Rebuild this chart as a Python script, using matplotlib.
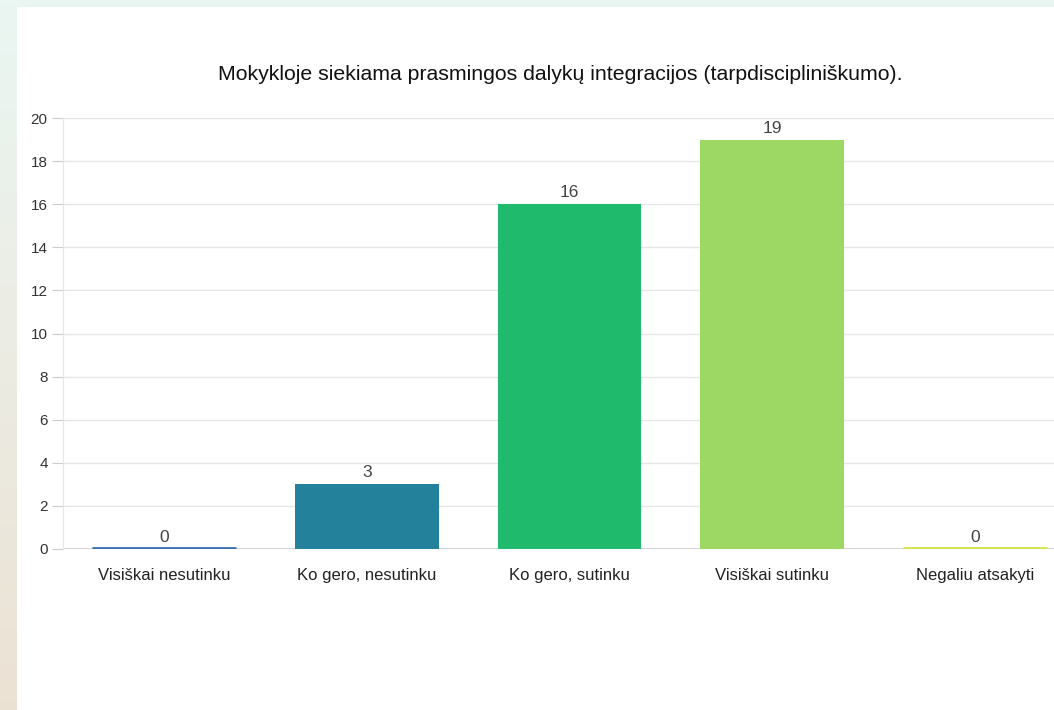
import numpy as np
import matplotlib
matplotlib.use("Agg")
import matplotlib.pyplot as plt
from matplotlib.patches import Rectangle

title = "Mokykloje siekiama prasmingos dalykų integracijos (tarpdiscipliniškumo)."
categories = ["Visiškai nesutinku", "Ko gero, nesutinku", "Ko gero, sutinku",
              "Visiškai sutinku", "Negaliu atsakyti"]
values = [0, 3, 16, 19, 0]
colors = ["#3b6fb6", "#23819b", "#1fba6b", "#9dd764", "#d2e34c"]
yticks = [0, 2, 4, 6, 8, 10, 12, 14, 16, 18, 20]

plt.rcParams["font.family"] = ["Liberation Sans", "DejaVu Sans"]

W, H = 1054, 710
fig = plt.figure(figsize=(W / 100, H / 100), dpi=100)

# page background: soft gradient behind a white panel
bg = fig.add_axes([0, 0, 1, 1])
bg.set_axis_off()
top = np.array([0.920, 0.965, 0.950])
bot = np.array([0.925, 0.885, 0.830])
t = np.linspace(0, 1, 256)[:, None]
grad = top * (1 - t) + bot * t
bg.imshow(grad[:, None, :], aspect="auto", extent=[0, 1, 0, 1])
bg.add_patch(Rectangle((17 / W, 0), 1, 1 - 7 / H, facecolor="white",
                       edgecolor="none", transform=bg.transAxes))
bg.set_xlim(0, 1)
bg.set_ylim(0, 1)

# plot area in pixel coords (extends past the right edge like the source)
x0, x1 = 63, 1076
y0, y1 = 549, 118
ax = fig.add_axes([x0 / W, 1 - y0 / H, (x1 - x0) / W, (y0 - y1) / H])
ax.set_facecolor("none")

x = np.arange(len(categories))
bw = 0.71
for xi, v, c in zip(x, values, colors):
    if v == 0:
        ax.plot([xi - bw / 2, xi + bw / 2], [0.05, 0.05], color=c, lw=2,
                solid_capstyle="butt", zorder=3)
    else:
        ax.bar(xi, v, width=bw, color=c, zorder=3)
    ax.annotate(str(v), (xi, v), xytext=(0, 5), textcoords="offset points",
                ha="center", va="baseline", fontsize=12.5, color="#444444")

ax.set_xlim(-0.5, len(categories) - 0.5)
ax.set_ylim(0, 20)
ax.set_yticks(yticks)
ax.set_yticklabels([str(v) for v in yticks], fontsize=11, color="#333333")
ax.set_xticks(x)
ax.set_xticklabels(categories, fontsize=12, color="#222222")
ax.tick_params(axis="y", length=8, color="#cccccc", pad=3)
ax.tick_params(axis="x", length=0, pad=14)
ax.grid(axis="y", color="#e6e6e6", lw=1, zorder=0)
for s in ["top", "right", "bottom"]:
    ax.spines[s].set_visible(False)
ax.spines["left"].set_color("#e6e6e6")
ax.axhline(0, color="#cfcfcf", lw=1.2, zorder=2)

fig.text(560 / W, 1 - 75 / H, title, ha="center", va="center",
         fontsize=15.3, color="#111111")

fig.savefig("out.png", dpi=100)
